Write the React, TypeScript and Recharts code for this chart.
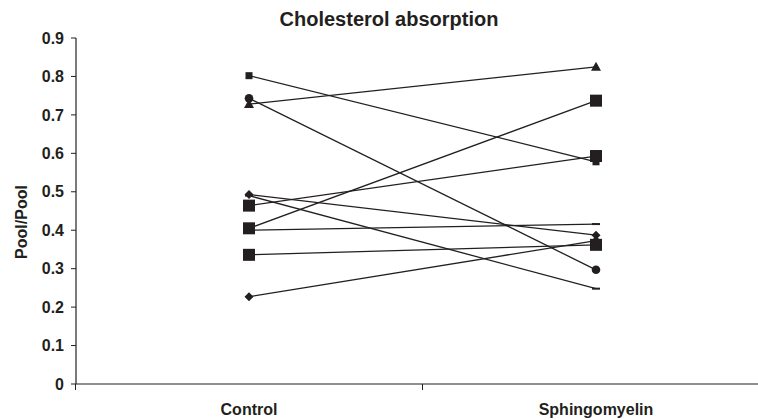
import React from 'react';
import { LineChart, Line, XAxis, YAxis } from 'recharts';

const groups = ['Control', 'Sphingomyelin'];
const controlValues = [0.802, 0.743, 0.728, 0.493, 0.49, 0.464, 0.405, 0.4, 0.336, 0.227];
const sphingomyelinValues = [0.578, 0.297, 0.825, 0.387, 0.248, 0.593, 0.737, 0.416, 0.362, 0.373];
const yTicks = [0, 0.1, 0.2, 0.3, 0.4, 0.5, 0.6, 0.7, 0.8, 0.9];

// marker used by each subject's line
const markerShapes = [
  'smallSquare',
  'circle',
  'triangle',
  'diamond',
  'dash',
  'square',
  'square',
  'dash',
  'square',
  'diamond',
];

const INK = '#231f20';
const FONT = '"Liberation Sans", Arial, Helvetica, sans-serif';
const BAND_HALF = 173.5;

const rows = groups.map((group, gi) => {
  const row: Record<string, string | number> = { group };
  controlValues.forEach((v, i) => {
    row['s' + i] = gi === 0 ? v : sphingomyelinValues[i];
  });
  return row;
});

const Marker = ({ cx, cy, shape }: { cx: number; cy: number; shape: string }) => {
  if (cx == null || cy == null) return null;
  switch (shape) {
    case 'smallSquare':
      return <rect x={cx - 3.5} y={cy - 3.5} width={7} height={7} fill={INK} />;
    case 'square':
      return <rect x={cx - 6} y={cy - 6} width={12} height={12} fill={INK} />;
    case 'circle':
      return <circle cx={cx} cy={cy} r={4.3} fill={INK} />;
    case 'triangle':
      return (
        <polygon
          points={`${cx},${cy - 5} ${cx + 5},${cy + 4} ${cx - 5},${cy + 4}`}
          fill={INK}
        />
      );
    case 'diamond':
      return (
        <polygon
          points={`${cx},${cy - 4.5} ${cx + 4.5},${cy} ${cx},${cy + 4.5} ${cx - 4.5},${cy}`}
          fill={INK}
        />
      );
    default:
      return <rect x={cx - 4} y={cy - 1} width={8} height={2} fill={INK} />;
  }
};

const GroupTick = (props: any) => {
  const { x, y, payload } = props;
  return (
    <g>
      <line x1={x - BAND_HALF} y1={y} x2={x - BAND_HALF} y2={y + 6} stroke={INK} strokeWidth={1} />
      <text
        x={x}
        y={y + 31}
        textAnchor="middle"
        fontSize={16}
        fontWeight="bold"
        fontFamily={FONT}
        fill={INK}
      >
        {payload.value}
      </text>
    </g>
  );
};

export default function App() {
  return (
    <div style={{ position: 'absolute', left: 0, top: 0, width: 758, height: 420, background: '#fff' }}>
      <div
        style={{
          position: 'absolute',
          left: 0,
          top: 9,
          width: 778,
          textAlign: 'center',
          fontFamily: FONT,
          fontWeight: 'bold',
          fontSize: 20,
          lineHeight: '20px',
          color: INK,
        }}
      >
        Cholesterol absorption
      </div>
      <LineChart
        width={758}
        height={420}
        data={rows}
        margin={{ top: 38, right: 0, bottom: 0, left: 0 }}
      >
        <XAxis
          dataKey="group"
          scale="point"
          padding={{ left: 173, right: 162 }}
          height={36}
          tickLine={false}
          tickSize={0}
          tickMargin={0}
          axisLine={{ stroke: INK, strokeWidth: 1.2 }}
          tick={<GroupTick />}
        />
        <YAxis
          width={76}
          domain={[0, 0.9]}
          ticks={yTicks}
          interval={0}
          tickSize={5}
          tickMargin={7}
          tickFormatter={(v: number) => (v === 0 ? '0' : v.toFixed(1))}
          axisLine={{ stroke: INK, strokeWidth: 1.2 }}
          tickLine={{ stroke: INK }}
          tick={{ fontSize: 16, fontWeight: 'bold', fill: INK, fontFamily: FONT }}
          label={() => (
            <text
              x={21}
              y={222}
              transform="rotate(-90 21 222)"
              textAnchor="middle"
              dominantBaseline="central"
              fontSize={16}
              fontWeight="bold"
              fontFamily={FONT}
              fill={INK}
            >
              Pool/Pool
            </text>
          )}
        />
        {controlValues.map((_, i) => (
          <Line
            key={'s' + i}
            dataKey={'s' + i}
            stroke={INK}
            strokeWidth={1.3}
            isAnimationActive={false}
            dot={(p: any) => (
              <Marker key={`m${i}-${p.index}`} cx={p.cx} cy={p.cy} shape={markerShapes[i]} />
            )}
            activeDot={false}
          />
        ))}
      </LineChart>
    </div>
  );
}
